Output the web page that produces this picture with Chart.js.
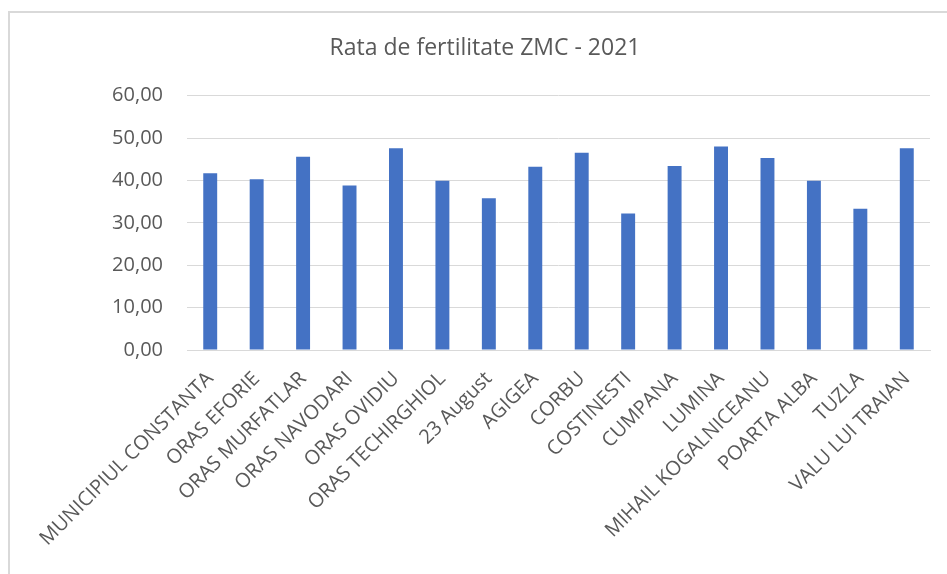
<!DOCTYPE html>
<html>
<head>
<meta charset="utf-8">
<script src="https://cdn.jsdelivr.net/npm/chart.js@4/dist/chart.umd.min.js"></script>
<style>
  html, body { margin: 0; padding: 0; background: #fff; }
  #wrap { position: relative; width: 947px; height: 574px; }
  #frame { position: absolute; left: 8px; top: 11px; right: -2px; bottom: -2px; border-left: 2px solid #d9d9d9; border-top: 2px solid #d9d9d9; pointer-events: none; }
  canvas { position: absolute; left: 0; top: 0; }
</style>
</head>
<body>
<div id="wrap">
  <canvas id="c" width="947" height="574"></canvas>
  <div id="frame"></div>
</div>
<script>
const chartTitle = 'Rata de fertilitate ZMC - 2021';
const categories = ['MUNICIPIUL CONSTANTA', 'ORAS EFORIE', 'ORAS MURFATLAR', 'ORAS NAVODARI', 'ORAS OVIDIU', 'ORAS TECHIRGHIOL', '23 August', 'AGIGEA', 'CORBU', 'COSTINESTI', 'CUMPANA', 'LUMINA', 'MIHAIL KOGALNICEANU', 'POARTA ALBA', 'TUZLA', 'VALU LUI TRAIAN'];
const fertilityRates = [41.7, 40.3, 45.6, 38.8, 47.6, 39.9, 35.8, 43.2, 46.5, 32.2, 43.4, 48.0, 45.3, 39.9, 33.3, 47.6];
const yTickValues = [0, 10, 20, 30, 40, 50, 60];
const yTickLabels = ['0,00', '10,00', '20,00', '30,00', '40,00', '50,00', '60,00'];

const textColor = '#595959';
const gridColor = '#d9d9d9';
const fontFamily = '"Open Sans", "Noto Sans", sans-serif';

new Chart(document.getElementById('c'), {
  type: 'bar',
  data: {
    labels: categories,
    datasets: [{
      label: chartTitle,
      data: fertilityRates,
      backgroundColor: '#4472C4',
      borderWidth: 0,
      barPercentage: 0.3,
      categoryPercentage: 1.0
    }]
  },
  options: {
    responsive: false,
    animation: false,
    devicePixelRatio: 1,
    layout: { padding: { left: 40, right: 17, top: 20, bottom: 0 } },
    plugins: {
      legend: { display: false },
      tooltip: { enabled: false },
      title: {
        display: true,
        text: chartTitle,
        color: textColor,
        font: { family: fontFamily, size: 23, weight: 'normal' },
        padding: { top: 15, bottom: 33 }
      }
    },
    scales: {
      x: {
        grid: { display: false, drawTicks: false },
        border: { display: true, color: gridColor, width: 1 },
        ticks: {
          color: textColor,
          font: { family: fontFamily, size: 20 },
          maxRotation: 45,
          minRotation: 45,
          autoSkip: false,
          padding: 17
        },
        afterFit: (axis) => { axis.height = 574 - 350; }
      },
      y: {
        min: 0,
        max: 60,
        afterBuildTicks: (axis) => { axis.ticks = yTickValues.map(v => ({ value: v })); },
        grid: { color: gridColor, lineWidth: 1, drawTicks: false },
        border: { display: false },
        ticks: {
          color: textColor,
          font: { family: fontFamily, size: 20 },
          padding: 24,
          callback: (value) => yTickLabels[yTickValues.indexOf(value)]
        },
        afterFit: (axis) => { axis.width = 147; }
      }
    }
  }
});
</script>
</body>
</html>
